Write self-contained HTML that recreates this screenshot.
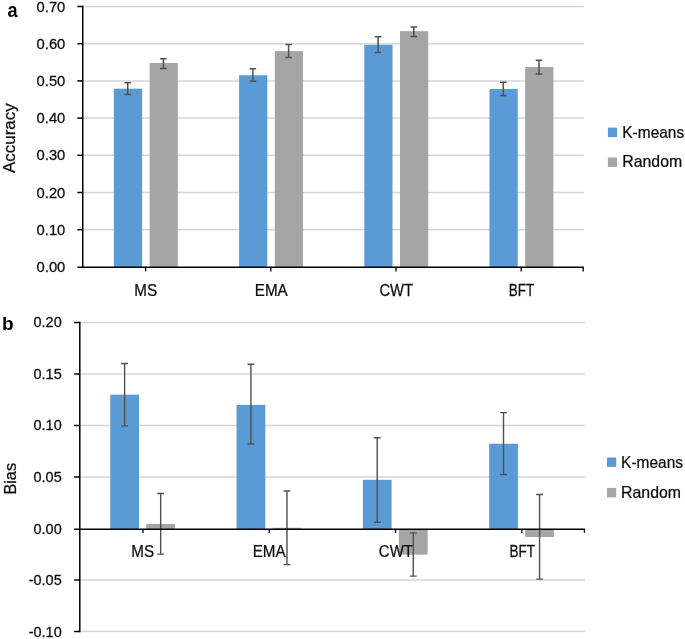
<!DOCTYPE html>
<html lang="en"><head><meta charset="utf-8"><title>Accuracy and bias charts</title>
<style>
html,body{margin:0;padding:0;background:#fff;}
body{width:685px;height:639px;overflow:hidden;}
svg{display:block;font-family:"Liberation Sans",sans-serif;}
</style></head><body>
<svg width="685" height="639" viewBox="0 0 685 639">
<rect width="685" height="639" fill="#fff"/>
<g id="chart-a">
<line x1="83.0" x2="583.8" y1="229.70" y2="229.70" stroke="#d6d6d6" stroke-width="1.5"/>
<line x1="83.0" x2="583.8" y1="192.50" y2="192.50" stroke="#d6d6d6" stroke-width="1.5"/>
<line x1="83.0" x2="583.8" y1="155.30" y2="155.30" stroke="#d6d6d6" stroke-width="1.5"/>
<line x1="83.0" x2="583.8" y1="118.10" y2="118.10" stroke="#d6d6d6" stroke-width="1.5"/>
<line x1="83.0" x2="583.8" y1="80.90" y2="80.90" stroke="#d6d6d6" stroke-width="1.5"/>
<line x1="83.0" x2="583.8" y1="43.70" y2="43.70" stroke="#d6d6d6" stroke-width="1.5"/>
<line x1="83.0" x2="583.8" y1="6.50" y2="6.50" stroke="#d6d6d6" stroke-width="1.5"/>
<rect x="113.90" y="88.69" width="28.2" height="178.41" fill="#5b9bd5"/>
<rect x="149.60" y="63.02" width="28.2" height="204.08" fill="#a5a5a5"/>
<path d="M127.70 82.63V94.53M124.40 82.63h6.6M124.40 94.53h6.6" stroke="#505050" stroke-width="1.5" fill="none"/>
<path d="M163.40 58.81V68.41M160.10 58.81h6.6M160.10 68.41h6.6" stroke="#505050" stroke-width="1.5" fill="none"/>
<rect x="239.10" y="75.22" width="28.2" height="191.88" fill="#5b9bd5"/>
<rect x="274.80" y="51.11" width="28.2" height="215.99" fill="#a5a5a5"/>
<path d="M252.90 68.82V81.32M249.60 68.82h6.6M249.60 81.32h6.6" stroke="#505050" stroke-width="1.5" fill="none"/>
<path d="M288.60 44.42V57.62M285.30 44.42h6.6M285.30 57.62h6.6" stroke="#505050" stroke-width="1.5" fill="none"/>
<rect x="364.30" y="44.79" width="28.2" height="222.31" fill="#5b9bd5"/>
<rect x="400.00" y="31.17" width="28.2" height="235.93" fill="#a5a5a5"/>
<path d="M378.10 36.71V52.45M374.80 36.71h6.6M374.80 52.45h6.6" stroke="#505050" stroke-width="1.5" fill="none"/>
<path d="M413.80 27.00V36.42M410.50 27.00h6.6M410.50 36.42h6.6" stroke="#505050" stroke-width="1.5" fill="none"/>
<rect x="489.50" y="88.91" width="28.2" height="178.19" fill="#5b9bd5"/>
<rect x="525.20" y="66.93" width="28.2" height="200.17" fill="#a5a5a5"/>
<path d="M503.30 82.33V95.61M500.00 82.33h6.6M500.00 95.61h6.6" stroke="#505050" stroke-width="1.5" fill="none"/>
<path d="M539.00 60.23V73.92M535.70 60.23h6.6M535.70 73.92h6.6" stroke="#505050" stroke-width="1.5" fill="none"/>
<path d="M82.75 5.8V267.1M77.3 267.20000000000005H583.8" stroke="#000" stroke-width="1.5" fill="none"/>
<text transform="translate(65.30 271.84) scale(1.07 1)" font-size="13.8" text-anchor="end" fill="#0d0d0d" stroke="#0d0d0d" stroke-width="0.25">0.00</text>
<line x1="77.3" x2="83.0" y1="229.70" y2="229.70" stroke="#000" stroke-width="1.5"/>
<text transform="translate(65.30 234.72) scale(1.07 1)" font-size="13.8" text-anchor="end" fill="#0d0d0d" stroke="#0d0d0d" stroke-width="0.25">0.10</text>
<line x1="77.3" x2="83.0" y1="192.50" y2="192.50" stroke="#000" stroke-width="1.5"/>
<text transform="translate(65.30 197.60) scale(1.07 1)" font-size="13.8" text-anchor="end" fill="#0d0d0d" stroke="#0d0d0d" stroke-width="0.25">0.20</text>
<line x1="77.3" x2="83.0" y1="155.30" y2="155.30" stroke="#000" stroke-width="1.5"/>
<text transform="translate(65.30 160.48) scale(1.07 1)" font-size="13.8" text-anchor="end" fill="#0d0d0d" stroke="#0d0d0d" stroke-width="0.25">0.30</text>
<line x1="77.3" x2="83.0" y1="118.10" y2="118.10" stroke="#000" stroke-width="1.5"/>
<text transform="translate(65.30 123.36) scale(1.07 1)" font-size="13.8" text-anchor="end" fill="#0d0d0d" stroke="#0d0d0d" stroke-width="0.25">0.40</text>
<line x1="77.3" x2="83.0" y1="80.90" y2="80.90" stroke="#000" stroke-width="1.5"/>
<text transform="translate(65.30 86.24) scale(1.07 1)" font-size="13.8" text-anchor="end" fill="#0d0d0d" stroke="#0d0d0d" stroke-width="0.25">0.50</text>
<line x1="77.3" x2="83.0" y1="43.70" y2="43.70" stroke="#000" stroke-width="1.5"/>
<text transform="translate(65.30 49.12) scale(1.07 1)" font-size="13.8" text-anchor="end" fill="#0d0d0d" stroke="#0d0d0d" stroke-width="0.25">0.60</text>
<line x1="77.3" x2="83.0" y1="6.50" y2="6.50" stroke="#000" stroke-width="1.5"/>
<text transform="translate(65.30 12.00) scale(1.07 1)" font-size="13.8" text-anchor="end" fill="#0d0d0d" stroke="#0d0d0d" stroke-width="0.25">0.70</text>
<line x1="145.60" x2="145.60" y1="267.1" y2="271.40000000000003" stroke="#000" stroke-width="1.3"/>
<line x1="270.80" x2="270.80" y1="267.1" y2="271.40000000000003" stroke="#000" stroke-width="1.3"/>
<line x1="396.00" x2="396.00" y1="267.1" y2="271.40000000000003" stroke="#000" stroke-width="1.3"/>
<line x1="521.20" x2="521.20" y1="267.1" y2="271.40000000000003" stroke="#000" stroke-width="1.3"/>
<line x1="583.1999999999999" x2="583.1999999999999" y1="267.1" y2="271.40000000000003" stroke="#000" stroke-width="1.3"/>
<text transform="translate(145.70 295.70) scale(0.9 1)" font-size="16.9" text-anchor="middle" fill="#0d0d0d" stroke="#0d0d0d" stroke-width="0.25">MS</text>
<text transform="translate(271.25 295.70) scale(0.9 1)" font-size="16.9" text-anchor="middle" fill="#0d0d0d" stroke="#0d0d0d" stroke-width="0.25">EMA</text>
<text transform="translate(396.20 295.70) scale(0.875 1)" font-size="16.9" text-anchor="middle" fill="#0d0d0d" stroke="#0d0d0d" stroke-width="0.25">CWT</text>
<text transform="translate(521.60 295.70) scale(0.8 1)" font-size="16.9" text-anchor="middle" fill="#0d0d0d" stroke="#0d0d0d" stroke-width="0.25">BFT</text>
<text transform="translate(15.3 138.2) rotate(-90) scale(0.98 1)" font-size="17.3" text-anchor="middle" fill="#0d0d0d" stroke="#0d0d0d" stroke-width="0.25">Accuracy</text>
<rect x="607.9" y="127.6" width="9.1" height="9.4" fill="#5b9bd5"/>
<text transform="translate(622.30 137.80) scale(0.932 1)" font-size="16.6" text-anchor="start" fill="#0d0d0d" stroke="#0d0d0d" stroke-width="0.25">K-means</text>
<rect x="607.9" y="157.5" width="9.1" height="9.4" fill="#a5a5a5"/>
<text transform="translate(622.30 167.40) scale(0.955 1)" font-size="16.6" text-anchor="start" fill="#0d0d0d" stroke="#0d0d0d" stroke-width="0.25">Random</text>
<text transform="translate(7.55 16.65) scale(0.92 1)" font-size="19.7" text-anchor="start" font-weight="bold" fill="#000">a</text>
</g>
<g id="chart-b">
<line x1="79.8" x2="585.0" y1="322.50" y2="322.50" stroke="#d6d6d6" stroke-width="1.5"/>
<line x1="79.8" x2="585.0" y1="374.00" y2="374.00" stroke="#d6d6d6" stroke-width="1.5"/>
<line x1="79.8" x2="585.0" y1="425.50" y2="425.50" stroke="#d6d6d6" stroke-width="1.5"/>
<line x1="79.8" x2="585.0" y1="477.00" y2="477.00" stroke="#d6d6d6" stroke-width="1.5"/>
<line x1="79.8" x2="585.0" y1="580.00" y2="580.00" stroke="#d6d6d6" stroke-width="1.5"/>
<line x1="79.8" x2="585.0" y1="631.50" y2="631.50" stroke="#d6d6d6" stroke-width="1.5"/>
<rect x="110.25" y="394.66" width="28.75" height="134.34" fill="#5b9bd5"/>
<rect x="146.30" y="523.95" width="28.75" height="5.05" fill="#a5a5a5"/>
<rect x="236.55" y="404.87" width="28.75" height="124.13" fill="#5b9bd5"/>
<rect x="272.60" y="527.76" width="28.75" height="1.24" fill="#a5a5a5"/>
<rect x="362.85" y="479.82" width="28.75" height="49.18" fill="#5b9bd5"/>
<rect x="398.90" y="529.00" width="28.75" height="25.67" fill="#a5a5a5"/>
<rect x="489.15" y="443.74" width="28.75" height="85.26" fill="#5b9bd5"/>
<rect x="525.20" y="529.00" width="28.75" height="8.04" fill="#a5a5a5"/>
<text transform="translate(142.75 557.20) scale(0.9 1)" font-size="16.9" text-anchor="middle" fill="#0d0d0d" stroke="#0d0d0d" stroke-width="0.25">MS</text>
<text transform="translate(269.15 557.20) scale(0.9 1)" font-size="16.9" text-anchor="middle" fill="#0d0d0d" stroke="#0d0d0d" stroke-width="0.25">EMA</text>
<text transform="translate(395.85 557.20) scale(0.885 1)" font-size="16.9" text-anchor="middle" fill="#0d0d0d" stroke="#0d0d0d" stroke-width="0.25">CWT</text>
<text transform="translate(522.35 557.20) scale(0.8 1)" font-size="16.9" text-anchor="middle" fill="#0d0d0d" stroke="#0d0d0d" stroke-width="0.25">BFT</text>
<path d="M124.62 363.52V425.90M121.22 363.52h6.8M121.22 425.90h6.8" stroke="#505050" stroke-width="1.4" fill="none"/>
<path d="M160.68 493.53V554.16M157.28 493.53h6.8M157.28 554.16h6.8" stroke="#505050" stroke-width="1.4" fill="none"/>
<path d="M250.92 364.25V443.94M247.52 364.25h6.8M247.52 443.94h6.8" stroke="#505050" stroke-width="1.4" fill="none"/>
<path d="M286.98 490.96V564.67M283.58 490.96h6.8M283.58 564.67h6.8" stroke="#505050" stroke-width="1.4" fill="none"/>
<path d="M377.22 437.76V522.30M373.82 437.76h6.8M373.82 522.30h6.8" stroke="#505050" stroke-width="1.4" fill="none"/>
<path d="M413.27 532.92V576.12M409.88 532.92h6.8M409.88 576.12h6.8" stroke="#505050" stroke-width="1.4" fill="none"/>
<path d="M503.52 412.60V474.56M500.12 412.60h6.8M500.12 474.56h6.8" stroke="#505050" stroke-width="1.4" fill="none"/>
<path d="M539.58 494.56V579.11M536.18 494.56h6.8M536.18 579.11h6.8" stroke="#505050" stroke-width="1.4" fill="none"/>
<path d="M79.8 321.8V632.2M74.1 529.3H585.0" stroke="#000" stroke-width="1.5" fill="none"/>
<line x1="74.1" x2="79.8" y1="322.50" y2="322.50" stroke="#000" stroke-width="1.5"/>
<text transform="translate(61.70 327.30) scale(1.05 1)" font-size="13.8" text-anchor="end" fill="#0d0d0d" stroke="#0d0d0d" stroke-width="0.25">0.20</text>
<line x1="74.1" x2="79.8" y1="374.00" y2="374.00" stroke="#000" stroke-width="1.5"/>
<text transform="translate(61.70 378.85) scale(1.05 1)" font-size="13.8" text-anchor="end" fill="#0d0d0d" stroke="#0d0d0d" stroke-width="0.25">0.15</text>
<line x1="74.1" x2="79.8" y1="425.50" y2="425.50" stroke="#000" stroke-width="1.5"/>
<text transform="translate(61.70 430.40) scale(1.05 1)" font-size="13.8" text-anchor="end" fill="#0d0d0d" stroke="#0d0d0d" stroke-width="0.25">0.10</text>
<line x1="74.1" x2="79.8" y1="477.00" y2="477.00" stroke="#000" stroke-width="1.5"/>
<text transform="translate(61.70 481.95) scale(1.05 1)" font-size="13.8" text-anchor="end" fill="#0d0d0d" stroke="#0d0d0d" stroke-width="0.25">0.05</text>
<text transform="translate(61.70 533.50) scale(1.05 1)" font-size="13.8" text-anchor="end" fill="#0d0d0d" stroke="#0d0d0d" stroke-width="0.25">0.00</text>
<line x1="74.1" x2="79.8" y1="580.00" y2="580.00" stroke="#000" stroke-width="1.5"/>
<text transform="translate(61.70 585.05) scale(1.05 1)" font-size="13.8" text-anchor="end" fill="#0d0d0d" stroke="#0d0d0d" stroke-width="0.25">-0.05</text>
<line x1="74.1" x2="79.8" y1="631.50" y2="631.50" stroke="#000" stroke-width="1.5"/>
<text transform="translate(61.70 636.60) scale(1.05 1)" font-size="13.8" text-anchor="end" fill="#0d0d0d" stroke="#0d0d0d" stroke-width="0.25">-0.10</text>
<line x1="142.95" x2="142.95" y1="529.0" y2="532.9" stroke="#000" stroke-width="1.3"/>
<line x1="269.25" x2="269.25" y1="529.0" y2="532.9" stroke="#000" stroke-width="1.3"/>
<line x1="395.55" x2="395.55" y1="529.0" y2="532.9" stroke="#000" stroke-width="1.3"/>
<line x1="521.85" x2="521.85" y1="529.0" y2="532.9" stroke="#000" stroke-width="1.3"/>
<line x1="584.4" x2="584.4" y1="529.0" y2="532.9" stroke="#000" stroke-width="1.3"/>
<text transform="translate(16.0 478.8) rotate(-90) scale(0.935 1)" font-size="17.4" text-anchor="middle" fill="#0d0d0d" stroke="#0d0d0d" stroke-width="0.25">Bias</text>
<rect x="607.0" y="457.5" width="9.2" height="9.4" fill="#5b9bd5"/>
<text transform="translate(621.10 467.80) scale(0.932 1)" font-size="16.6" text-anchor="start" fill="#0d0d0d" stroke="#0d0d0d" stroke-width="0.25">K-means</text>
<rect x="607.0" y="487.9" width="9.2" height="9.4" fill="#a5a5a5"/>
<text transform="translate(621.10 497.50) scale(0.955 1)" font-size="16.6" text-anchor="start" fill="#0d0d0d" stroke="#0d0d0d" stroke-width="0.25">Random</text>
<text transform="translate(1.90 330.20) scale(1.0 1)" font-size="19" text-anchor="start" font-weight="bold" fill="#000">b</text>
</g>
</svg>
</body></html>
